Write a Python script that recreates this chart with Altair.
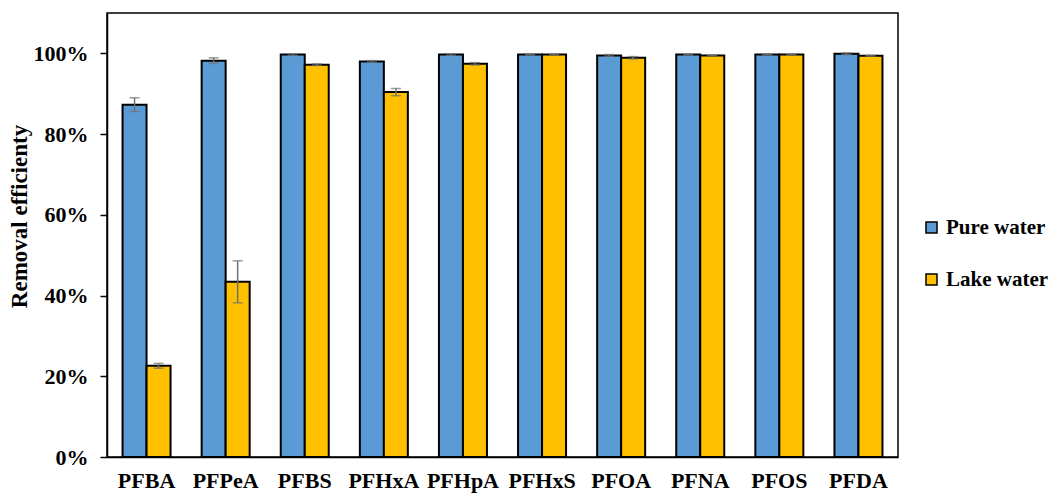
import altair as alt
import pandas as pd

compounds = ["PFBA", "PFPeA", "PFBS", "PFHxA", "PFHpA", "PFHxS", "PFOA", "PFNA", "PFOS", "PFDA"]
series = ["Pure water", "Lake water"]
pure_mean = [87.3, 98.2, 99.7, 98.0, 99.7, 99.7, 99.5, 99.7, 99.7, 99.9]
pure_err = [1.7, 0.7, 0.2, 0.2, 0.2, 0.1, 0.2, 0.1, 0.1, 0.2]
lake_mean = [22.6, 43.4, 97.2, 90.4, 97.4, 99.7, 98.9, 99.5, 99.7, 99.4]
lake_err = [0.6, 5.2, 0.2, 0.9, 0.3, 0.1, 0.3, 0.1, 0.1, 0.1]
colors = ["#5B9BD5", "#FFC000"]

rows = []
for i, c in enumerate(compounds):
    for s, m, e in ((series[0], pure_mean, pure_err), (series[1], lake_mean, lake_err)):
        rows.append({
            "compound": c,
            "water": s,
            "value": m[i] / 100,
            "lo": (m[i] - e[i]) / 100,
            "hi": (m[i] + e[i]) / 100,
        })
df = pd.DataFrame(rows)

FONT = "Liberation Serif"
ERR_COLOR = "#707070"

x_enc = alt.X(
    "compound:N",
    sort=compounds,
    title=None,
    scale=alt.Scale(paddingInner=0.393, paddingOuter=0.1965),
    axis=alt.Axis(
        labelAngle=0, ticks=False, labelPadding=13, labelFont=FONT,
        labelFontSize=22, labelFontWeight="bold", labelColor="black",
        domainColor="black", domainWidth=1.5,
    ),
)
xo_enc = alt.XOffset("water:N", sort=series, scale=alt.Scale(paddingInner=0, paddingOuter=0))

y_scale = alt.Scale(domain=[0, 1.1], nice=False)

bars = alt.Chart(df).mark_bar(stroke="black", strokeWidth=2).encode(
    x=x_enc,
    xOffset=xo_enc,
    y=alt.Y(
        "value:Q",
        scale=y_scale,
        title="Removal efficienty",
        axis=alt.Axis(
            format=".0%", values=[0, 0.2, 0.4, 0.6, 0.8, 1.0], grid=False,
            tickSize=7, tickColor="black", tickWidth=1.5, labelPadding=12,
            labelFont=FONT, labelFontSize=22, labelFontWeight="bold", labelColor="black",
            domainColor="black", domainWidth=1.5,
            titleFont=FONT, titleFontSize=23, titleFontWeight="bold", titleColor="black",
            titleX=-88, titleY=203, titleAngle=-90, titleAlign="center",
            titleBaseline="middle",
        ),
    ),
    color=alt.Color(
        "water:N",
        sort=series,
        scale=alt.Scale(domain=series, range=colors),
        legend=alt.Legend(
            title=None, orient="none", legendX=814, legendY=204,
            symbolType="square", symbolSize=121, symbolStrokeColor="black",
            symbolStrokeWidth=1.5, symbolOpacity=1,
            labelFont=FONT, labelFontSize=21, labelFontWeight="bold", labelColor="black",
            rowPadding=30, labelOffset=4, labelLimit=200,
        ),
    ),
)

err_rule = alt.Chart(df).mark_rule(color=ERR_COLOR, strokeWidth=1.5).encode(
    x=alt.X("compound:N", sort=compounds),
    xOffset=alt.XOffset("water:N", sort=series),
    y=alt.Y("lo:Q", scale=y_scale),
    y2="hi:Q",
)

err_lo = alt.Chart(df).mark_tick(color=ERR_COLOR, thickness=1.5, size=10).encode(
    x=alt.X("compound:N", sort=compounds),
    xOffset=alt.XOffset("water:N", sort=series),
    y=alt.Y("lo:Q", scale=y_scale),
)
err_hi = alt.Chart(df).mark_tick(color=ERR_COLOR, thickness=1.5, size=10).encode(
    x=alt.X("compound:N", sort=compounds),
    xOffset=alt.XOffset("water:N", sort=series),
    y=alt.Y("hi:Q", scale=y_scale),
)

chart = (
    alt.layer(bars, err_rule, err_lo, err_hi)
    .properties(
        width=791,
        height=444,
        autosize=alt.AutoSizeParams(type="none"),
        padding={"left": 107, "top": 13, "right": 154, "bottom": 36},
        background="white",
    )
    .configure_view(stroke="black", strokeWidth=1.5)
)

chart.save("out.html", embed_options={"renderer": "svg", "actions": False})
